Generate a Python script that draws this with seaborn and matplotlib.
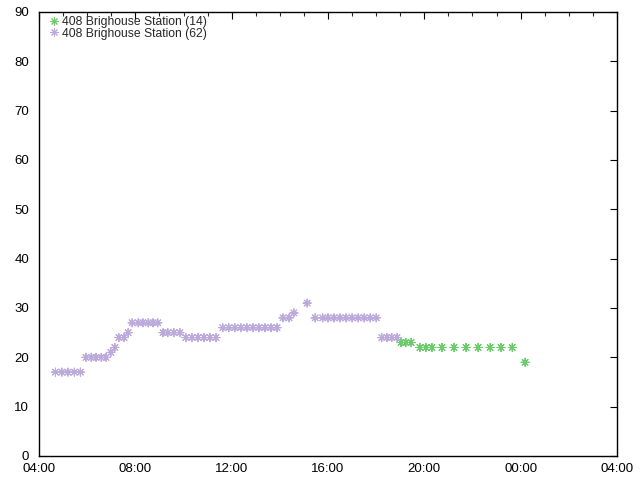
import matplotlib
matplotlib.use("Agg")
import matplotlib.pyplot as plt
import seaborn as sns
import pandas as pd
import numpy as np
from matplotlib.ticker import MultipleLocator, FuncFormatter

# ---- data ----
series_14_name = "408 Brighouse Station (14)"
series_62_name = "408 Brighouse Station (62)"

times_62 = ["04:41", "04:57", "05:12", "05:28", "05:43",
            "05:57", "06:10", "06:22", "06:35", "06:47",
            "06:59", "07:09", "07:19", "07:32", "07:42",
            "07:52", "08:07", "08:19", "08:32", "08:44", "08:56",
            "09:09", "09:21", "09:36", "09:51",
            "10:06", "10:21", "10:36", "10:51", "11:06", "11:21",
            "11:38", "11:53", "12:08", "12:23", "12:38", "12:53", "13:08", "13:23", "13:38", "13:53",
            "14:08", "14:23", "14:35", "15:08",
            "15:28", "15:47", "16:00", "16:15", "16:30", "16:45", "17:00", "17:15", "17:30", "17:45", "18:00",
            "18:14", "18:27", "18:39", "18:52"]
values_62 = [17, 17, 17, 17, 17,
             20, 20, 20, 20, 20,
             21, 22, 24, 24, 25,
             27, 27, 27, 27, 27, 27,
             25, 25, 25, 25,
             24, 24, 24, 24, 24, 24,
             26, 26, 26, 26, 26, 26, 26, 26, 26, 26,
             28, 28, 29, 31,
             28, 28, 28, 28, 28, 28, 28, 28, 28, 28, 28,
             24, 24, 24, 24]

times_14 = ["19:02", "19:14", "19:27", "19:49", "20:04", "20:19", "20:44", "21:14",
            "21:44", "22:14", "22:44", "23:11", "23:39", "00:11"]
values_14 = [23, 23, 23, 22, 22, 22, 22, 22, 22, 22, 22, 22, 22, 19]

x_tick_labels = ["04:00", "08:00", "12:00", "16:00", "20:00", "00:00", "04:00"]
y_ticks = [0, 10, 20, 30, 40, 50, 60, 70, 80, 90]


def to_hours(t):
    h, m = map(int, t.split(":"))
    v = h + m / 60.0
    if v < 4:
        v += 24
    return v


df = pd.concat([
    pd.DataFrame({"time": [to_hours(t) for t in times_14], "value": values_14, "series": series_14_name}),
    pd.DataFrame({"time": [to_hours(t) for t in times_62], "value": values_62, "series": series_62_name}),
], ignore_index=True)

sns.set_style("white")
plt.rcParams["font.family"] = ["Liberation Sans", "DejaVu Sans"]

fig = plt.figure(figsize=(6.4, 4.8), dpi=100)
ax = fig.add_axes([39 / 640, 24 / 480, (617 - 39) / 640, (456 - 12) / 480])

palette = {series_14_name: "#6ccc6c", series_62_name: "#bcaadc"}
sns.scatterplot(data=df, x="time", y="value", hue="series", palette=palette,
                marker=(8, 2, 0), s=34, linewidth=0.75, ax=ax, legend=True)

ax.set_xlim(4, 28)
ax.set_ylim(0, 90)
ax.xaxis.set_major_locator(MultipleLocator(4))
ax.xaxis.set_minor_locator(MultipleLocator(1))


def fmt(v, p):
    i = int(round((v - 4) / 4))
    return x_tick_labels[i] if 0 <= i < len(x_tick_labels) else ""


ax.xaxis.set_major_formatter(FuncFormatter(fmt))
ax.set_yticks(y_ticks)
ax.tick_params(axis="x", which="major", direction="in", length=5, width=0.8,
               top=True, labelsize=9.5, pad=5, colors="black")
ax.tick_params(axis="y", which="major", direction="in", length=5, width=0.8,
               right=True, labelsize=9.5, pad=7, colors="black")
ax.tick_params(axis="x", which="minor", direction="in", length=3, width=0.8,
               top=True)
for s in ax.spines.values():
    s.set_color("black")
    s.set_linewidth(1.0)
ax.set_xlabel("")
ax.set_ylabel("")

leg = ax.legend(loc="upper left", bbox_to_anchor=(0.012, 0.996), frameon=False,
                fontsize=8.7, handletextpad=0.15, borderaxespad=0.0,
                labelspacing=-0.05, handlelength=1.0, borderpad=0.2)

fig.savefig("out.png", dpi=100)
